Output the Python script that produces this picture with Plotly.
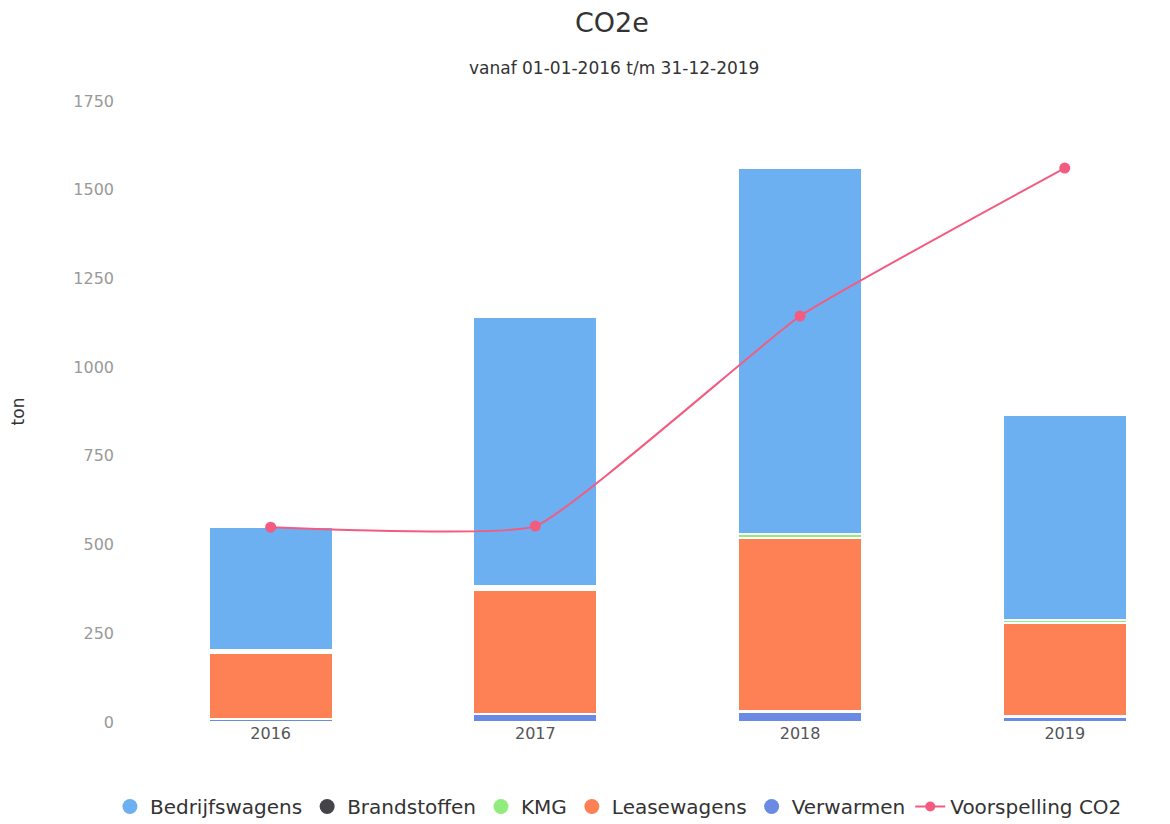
import plotly.graph_objects as go

years = ["2016", "2017", "2018", "2019"]
verwarmen = [8, 22, 30, 16]
leasewagens = [186, 352, 488, 263]
kmg = [8, 8, 12, 8]
brandstoffen = [0, 0, 0, 0]
bedrijfswagens = [347, 759, 1031, 578]
voorspelling = [549, 552, 1144, 1561]

colors = {
    "Bedrijfswagens": "#6cb0f2",
    "Brandstoffen": "#434348",
    "KMG": "#90ed7d",
    "Leasewagens": "#fd8155",
    "Verwarmen": "#6a8ae3",
    "Voorspelling CO2": "#f45b80",
}

fig = go.Figure()

# stack from bottom to top
stack = [
    ("Verwarmen", verwarmen),
    ("Leasewagens", leasewagens),
    ("KMG", kmg),
    ("Brandstoffen", brandstoffen),
    ("Bedrijfswagens", bedrijfswagens),
]
for name, vals in stack:
    fig.add_trace(go.Bar(
        x=years, y=vals, name=name,
        marker=dict(color=colors[name], line=dict(color="white", width=2.5)),
        width=0.47, showlegend=False,
    ))

fig.add_trace(go.Scatter(
    x=years, y=voorspelling, name="Voorspelling CO2",
    mode="lines+markers",
    line=dict(color=colors["Voorspelling CO2"], width=2, shape="spline", smoothing=0.35),
    marker=dict(size=11, color=colors["Voorspelling CO2"]), showlegend=False,
))

# legend entries with round symbols
legend_order = ["Bedrijfswagens", "Brandstoffen", "KMG", "Leasewagens", "Verwarmen"]
for name in legend_order:
    fig.add_trace(go.Scatter(
        x=[None], y=[None], name=name, mode="markers",
        marker=dict(symbol="circle", size=15, color=colors[name]),
    ))
fig.add_trace(go.Scatter(
    x=[None], y=[None], name="Voorspelling CO2", mode="lines+markers",
    line=dict(color=colors["Voorspelling CO2"], width=2),
    marker=dict(size=10, color=colors["Voorspelling CO2"]),
))

top, bottom = 93, 110
plot_h = 824 - top - bottom

def ypix(py):
    return 1 + (top - py) / plot_h

fig.add_annotation(text="CO2e", x=0.463, y=ypix(15), xref="paper", yref="paper",
                   yanchor="middle", showarrow=False, font=dict(size=27, color="#333333"))
fig.add_annotation(text="vanaf 01-01-2016 t/m 31-12-2019", x=0.465, y=ypix(60),
                   xref="paper", yref="paper", yanchor="middle", showarrow=False,
                   font=dict(size=17, color="#333333"))

fig.update_layout(
    barmode="stack",
    width=1170, height=824,
    font=dict(family="DejaVu Sans", color="#333333"),
    margin=dict(l=125, r=10, t=top, b=bottom, autoexpand=False),
    plot_bgcolor="white", paper_bgcolor="white",
    legend=dict(
        orientation="h", x=0.469, xanchor="center", y=ypix(779), yanchor="top",
        font=dict(size=20, color="#333333"), traceorder="normal",
    ),
)

fig.update_xaxes(
    type="category", range=[-0.52, 3.39], showgrid=False, showline=False,
    ticks="", tickfont=dict(size=16, color="#555555"),
)
fig.update_yaxes(
    range=[0, 1750], tickvals=[0, 250, 500, 750, 1000, 1250, 1500, 1750],
    showgrid=False, zeroline=False, showline=False,
    tickfont=dict(size=16, color="#999999"), ticklabelstandoff=18,
    title=dict(text="ton", font=dict(size=17, color="#333333"), standoff=50),
)

fig.write_html("out.html")
